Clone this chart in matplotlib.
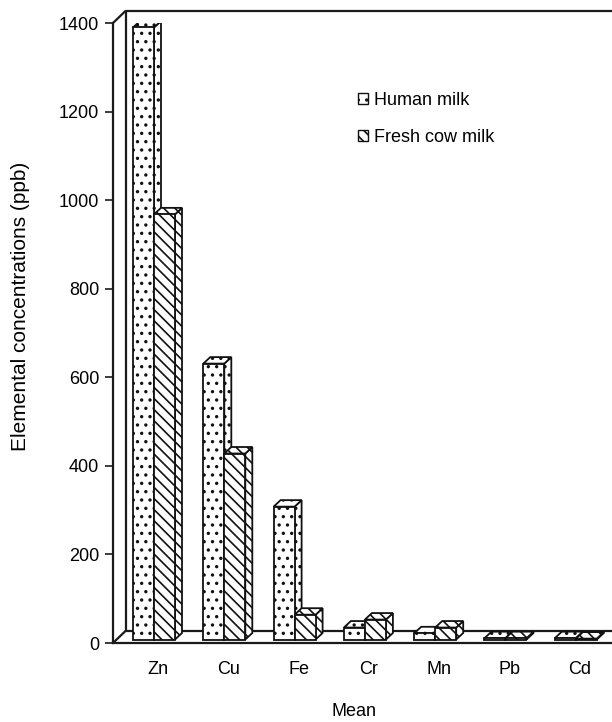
import matplotlib
matplotlib.use("Agg")
import matplotlib.pyplot as plt
from matplotlib.patches import Rectangle, Polygon, Patch
from matplotlib.lines import Line2D

# ---- data ----
categories = ["Zn", "Cu", "Fe", "Cr", "Mn", "Pb", "Cd"]
human_milk = [1382, 623, 300, 27, 14, 3, 3]
cow_milk = [960, 420, 56, 45, 27, 3, 2]
yticks = [0, 200, 400, 600, 800, 1000, 1200, 1400]
series_names = ["Human milk", "Fresh cow milk"]

plt.rcParams['font.family'] = ['Liberation Sans', 'DejaVu Sans']
plt.rcParams['hatch.linewidth'] = 1.2

W, H = 612, 722
fig = plt.figure(figsize=(W / 100, H / 100), dpi=100)

ax_left, ax_right, ax_top, ax_bottom = 113, 612, 23, 643
ax = fig.add_axes([ax_left / W, (H - ax_bottom) / H,
                   (ax_right - ax_left) / W, (ax_bottom - ax_top) / H])

spacing_px = 70.3
c0_px = 150.5
x0 = -(c0_px - ax_left) / spacing_px
x1 = (ax_right - c0_px) / spacing_px
ymax = 1400
ax.set_xlim(x0, x1)
ax.set_ylim(0, ymax)

px_x = (x1 - x0) / (ax_right - ax_left)
px_y = ymax / (ax_bottom - ax_top)

def dx(p):
    return p * px_x

def dy(p):
    return p * px_y

line_kw = dict(color="#1a1a1a", lw=1.6, clip_on=False, solid_capstyle="butt")

# back wall / floor in depth
wd_x, wd_y = dx(13), dy(12.5)
xr = x1 + 1
ax.add_line(Line2D([x0 + wd_x, x0 + wd_x], [wd_y, ymax + wd_y], **line_kw))
ax.add_line(Line2D([x0 + wd_x, xr], [ymax + wd_y, ymax + wd_y], **line_kw))
ax.add_line(Line2D([x0 + wd_x, xr], [wd_y, wd_y], **line_kw))
ax.add_line(Line2D([x0, x0 + wd_x], [0, wd_y], **line_kw))
ax.add_line(Line2D([x0, x0 + wd_x], [ymax, ymax + wd_y], **line_kw))

# spines: front axis + front floor
for s in ["top", "right"]:
    ax.spines[s].set_visible(False)
for s in ["left", "bottom"]:
    ax.spines[s].set_color("#1a1a1a")
    ax.spines[s].set_linewidth(1.6)

ax.set_yticks(yticks)
ax.set_yticklabels([str(v) for v in yticks], fontsize=13)
ax.tick_params(axis="y", length=6, width=1.2, color="#1a1a1a", pad=4)
label_off = 7.5 / spacing_px
ax.set_xticks([i + label_off for i in range(len(categories))])
ax.set_xticklabels(categories, fontsize=13)
ax.tick_params(axis="x", length=0, pad=13)

# bars
bw = 21 / spacing_px
fx, fy = dx(3.5), dy(3.5)
bdx, bdy = dx(7), dy(6.5)
hatches = ["..", "\\\\\\"]
edge = "#111111"

def draw_bar(xl, h, hatch):
    xa, xb = xl + fx, xl + bw + fx
    yb, yt = fy, fy + h
    front = Rectangle((xa, yb), bw, h, facecolor="white", edgecolor=edge,
                      lw=1.3, hatch=hatch, zorder=3)
    side = Polygon([(xb, yb), (xb + bdx, yb + bdy), (xb + bdx, yt + bdy), (xb, yt)],
                   closed=True, facecolor="white", edgecolor=edge, lw=1.3,
                   hatch=hatch, zorder=3)
    top = Polygon([(xa, yt), (xb, yt), (xb + bdx, yt + bdy), (xa + bdx, yt + bdy)],
                  closed=True, facecolor="white", edgecolor=edge, lw=1.3,
                  hatch=hatch, zorder=3)
    for p in (side, top, front):
        ax.add_patch(p)

for i in range(len(categories)):
    draw_bar(i - bw, human_milk[i], hatches[0])
    draw_bar(i, cow_milk[i], hatches[1])

fig.text(21 / W, (H - 306) / H, "Elemental concentrations (ppb)", fontsize=15,
         rotation=90, ha="center", va="center")
fig.text(354 / W, (H - 712) / H, "Mean", fontsize=13, ha="center", va="center")

handles = [Patch(facecolor="white", edgecolor=edge, hatch=h, lw=1.0) for h in hatches]
leg = fig.legend(handles, series_names, loc="upper left",
                 bbox_to_anchor=(358 / W, 1 - 92 / H), frameon=False,
                 fontsize=13, handlelength=0.55, handleheight=0.55,
                 handletextpad=0.35, labelspacing=1.1, borderpad=0,
                 borderaxespad=0)

fig.savefig("out.png", dpi=100)
